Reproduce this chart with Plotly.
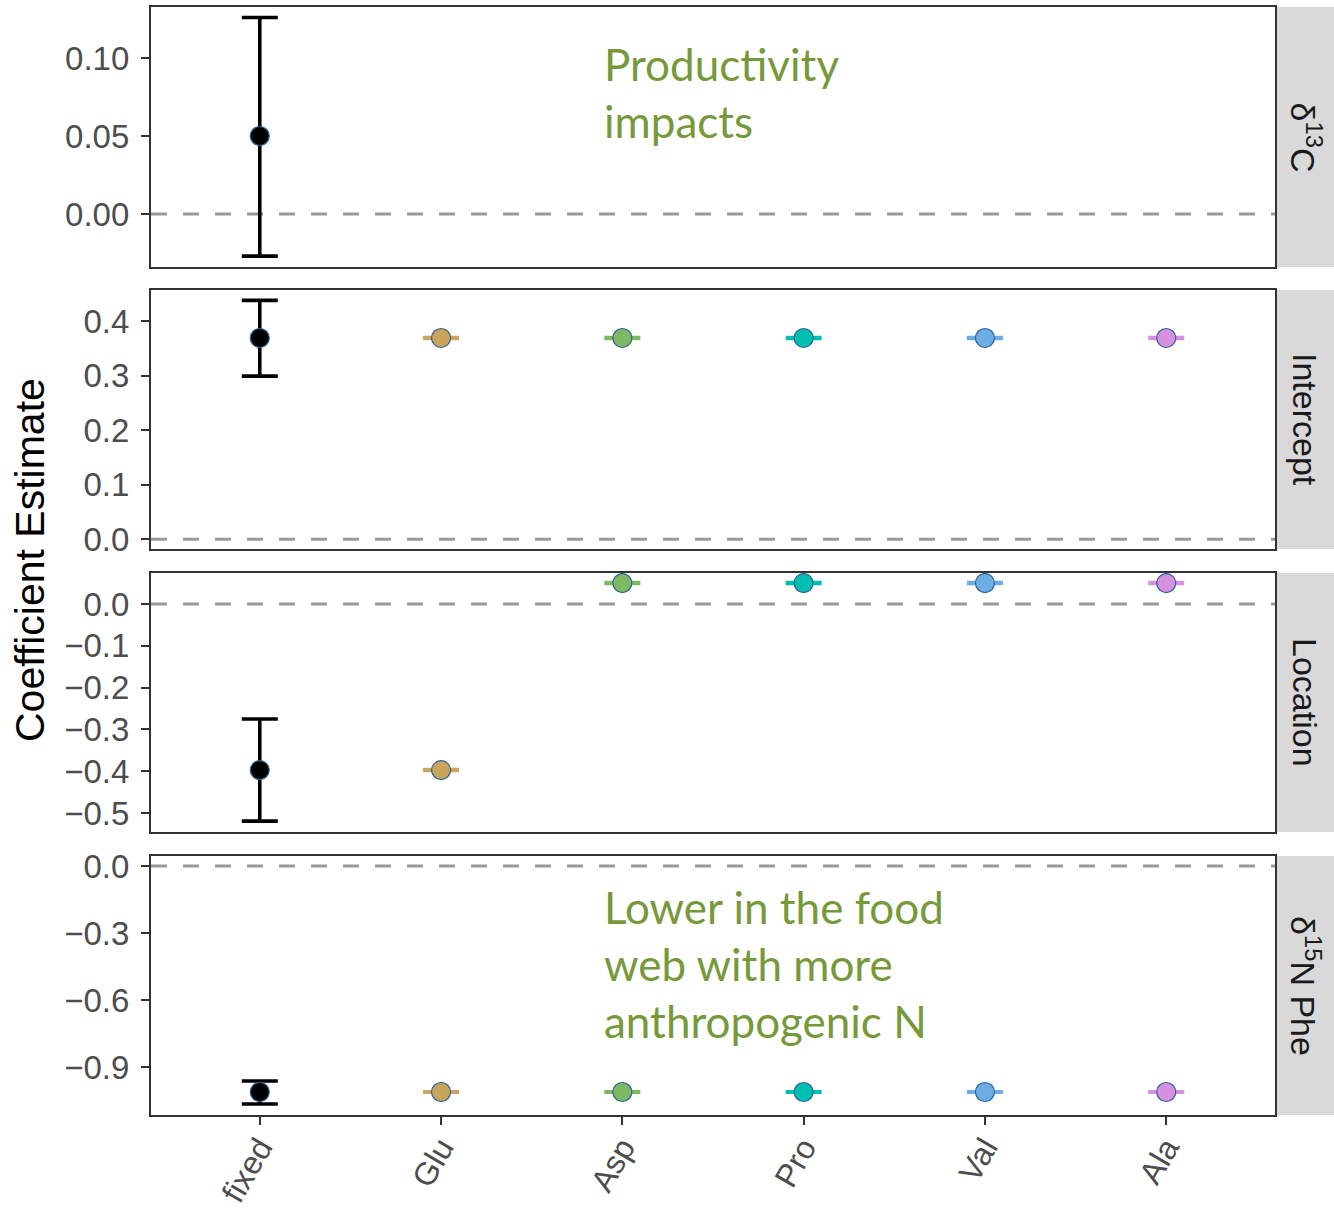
import plotly.graph_objects as go

W, H = 1334, 1209

categories = ["fixed", "Glu", "Asp", "Pro", "Val", "Ala"]
colors = ["#000000", "#C9A45A", "#7DB962", "#00BFB2", "#6CADE6", "#D78FE0"]
panels = ["δ<sup>13</sup>C", "Intercept", "Location", "δ<sup>15</sup>N Phe"]

est_d13c = [0.050, None, None, None, None, None]
lo_d13c = [-0.027, None, None, None, None, None]
hi_d13c = [0.126, None, None, None, None, None]

est_int = [0.369, 0.369, 0.369, 0.369, 0.369, 0.369]
lo_int = [0.299, 0.368, 0.368, 0.368, 0.368, 0.368]
hi_int = [0.438, 0.370, 0.370, 0.370, 0.370, 0.370]

est_loc = [-0.397, -0.397, 0.050, 0.050, 0.050, 0.050]
lo_loc = [-0.519, -0.398, 0.049, 0.049, 0.049, 0.049]
hi_loc = [-0.275, -0.396, 0.051, 0.051, 0.051, 0.051]

est_n15 = [-1.012, -1.012, -1.012, -1.012, -1.012, -1.012]
lo_n15 = [-1.066, -1.013, -1.013, -1.013, -1.013, -1.013]
hi_n15 = [-0.963, -1.011, -1.011, -1.011, -1.011, -1.011]

panel_data = [
    (est_d13c, lo_d13c, hi_d13c),
    (est_int, lo_int, hi_int),
    (est_loc, lo_loc, hi_loc),
    (est_n15, lo_n15, hi_n15),
]

y_ranges = [(-0.034, 0.1327), (-0.018, 0.457), (-0.545, 0.074), (-1.115, 0.045)]
y_ticks = [
    ([0.0, 0.05, 0.10], ["0.00", "0.05", "0.10"]),
    ([0.0, 0.1, 0.2, 0.3, 0.4], ["0.0", "0.1", "0.2", "0.3", "0.4"]),
    ([-0.5, -0.4, -0.3, -0.2, -0.1, 0.0], ["\u22120.5", "\u22120.4", "\u22120.3", "\u22120.2", "\u22120.1", "0.0"]),
    ([-0.9, -0.6, -0.3, 0.0], ["\u22120.9", "\u22120.6", "\u22120.3", "0.0"]),
]

panel_px = [(7, 267), (290, 549), (573, 832), (856, 1115)]
x0px, x1px = 151, 1275

fig = go.Figure()
layout = dict(
    width=W, height=H, autosize=False,
    margin=dict(l=0, r=0, t=0, b=0, pad=0),
    plot_bgcolor="white", paper_bgcolor="white",
    showlegend=False,
    font=dict(family="Liberation Sans, Arial, sans-serif", color="#4D4D4D"),
)
shapes = []
annotations = []

for i, (est, lo, hi) in enumerate(panel_data):
    ax = "" if i == 0 else str(i + 1)
    xref, yref = "x" + ax, "y" + ax
    top, bot = panel_px[i]
    for j, cat in enumerate(categories):
        if est[j] is None:
            continue
        fig.add_trace(go.Scatter(
            x=[cat], y=[est[j]], xaxis=xref, yaxis=yref,
            mode="markers",
            marker=dict(size=19, color=colors[j], line=dict(color="#2E6596", width=1.2)),
            error_y=dict(type="data", symmetric=False,
                         array=[hi[j] - est[j]], arrayminus=[est[j] - lo[j]],
                         color=colors[j], thickness=3.6, width=18),
            hoverinfo="x+y",
        ))
    layout["xaxis" + ax] = dict(
        domain=[x0px / W, x1px / W], anchor=yref, automargin=False,
        type="category", categoryorder="array", categoryarray=categories,
        range=[-0.6, 5.6],
        showline=True, mirror=True, linecolor="#333333", linewidth=2.2,
        showgrid=False, zeroline=False,
        ticks="outside" if i == 3 else "", ticklen=8, tickwidth=2.2, tickcolor="#333333",
        showticklabels=(i == 3),
        tickangle=-60,
        ticklabelstandoff=-9,
        tickfont=dict(size=32, color="#4D4D4D"),
        matches=None if i == 0 else "x",
    )
    tv, tt = y_ticks[i]
    layout["yaxis" + ax] = dict(
        domain=[1 - bot / H, 1 - top / H], anchor=xref, automargin=False,
        range=list(y_ranges[i]),
        showline=True, mirror=True, linecolor="#333333", linewidth=2.2,
        showgrid=False, zeroline=False,
        ticks="outside", ticklen=8, tickwidth=2.2, tickcolor="#333333",
        ticklabelstandoff=5,
        tickvals=tv, ticktext=tt,
        tickfont=dict(size=33, color="#4D4D4D"),
    )
    shapes.append(dict(type="line", xref="paper", yref=yref,
                       x0=x0px / W, x1=x1px / W, y0=0, y1=0,
                       line=dict(color="#999999", width=3, dash="16px,16px"),
                       layer="below"))
    shapes.append(dict(type="rect", xref="paper", yref="paper",
                       x0=1277 / W, x1=1.0, y0=1 - bot / H, y1=1 - top / H,
                       fillcolor="#D9D9D9", line=dict(width=0), layer="below"))
    annotations.append(dict(xref="paper", yref="paper",
                            x=(1277 + W) / 2 / W, y=1 - (top + bot) / 2 / H,
                            text=panels[i], showarrow=False, textangle=90,
                            font=dict(size=34, color="#1A1A1A"),
                            xanchor="center", yanchor="middle"))

annotations.append(dict(xref="paper", yref="paper", x=30 / W, y=1 - 560 / H,
                        text="Coefficient Estimate", showarrow=False, textangle=-90,
                        font=dict(size=41, color="#000000"),
                        xanchor="center", yanchor="middle"))

green = "#76993A"
annotations.append(dict(xref="paper", yref="paper", x=602 / W, y=1 - 93 / H,
                        text="Productivity<br>impacts", showarrow=False, align="left",
                        font=dict(size=44, color=green, family="Lato, Open Sans, sans-serif"),
                        xanchor="left", yanchor="middle"))
annotations.append(dict(xref="paper", yref="paper", x=602 / W, y=1 - 964 / H,
                        text="Lower in the food<br>web with more<br>anthropogenic N", showarrow=False,
                        align="left",
                        font=dict(size=44, color=green, family="Lato, Open Sans, sans-serif"),
                        xanchor="left", yanchor="middle"))

layout["shapes"] = shapes
layout["annotations"] = annotations
fig.update_layout(**layout)
fig.write_html("out.html",
               config={"displayModeBar": False},
               post_script="document.body.style.margin='0px';document.body.style.overflow='hidden';")
